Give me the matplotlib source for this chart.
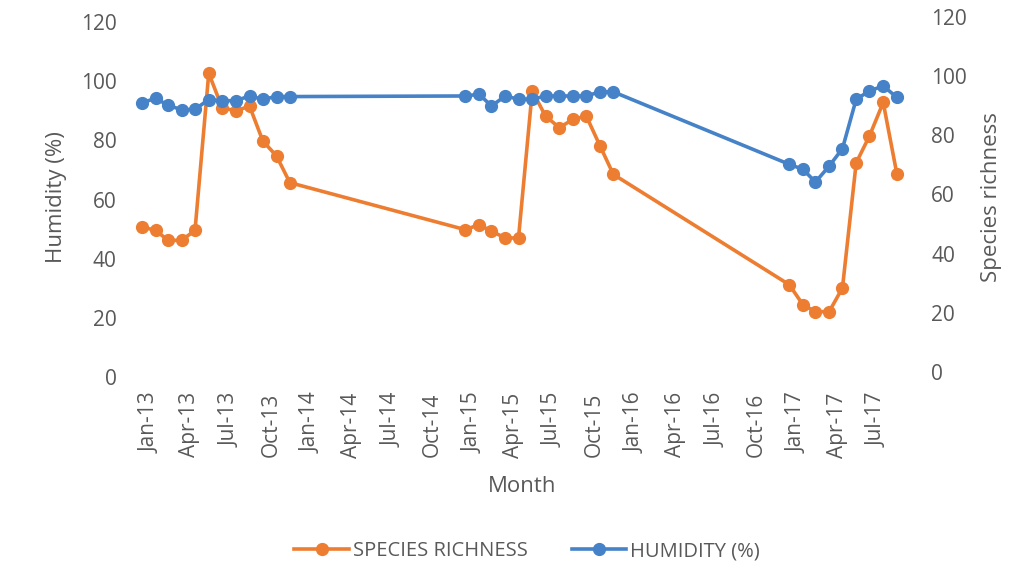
import matplotlib
matplotlib.use("Agg")
import matplotlib.pyplot as plt
import matplotlib.dates as mdates
import matplotlib.transforms as mtransforms
import pandas as pd

# monthly samples: Jan-Dec 2013, Jan-Dec 2015, Jan-Sep 2017
months = (list(pd.date_range("2013-01-01", "2013-12-01", freq="MS"))
          + list(pd.date_range("2015-01-01", "2015-12-01", freq="MS"))
          + list(pd.date_range("2017-01-01", "2017-09-01", freq="MS")))

humidity = [92.7, 94.2, 91.9, 90.3, 90.5, 93.8, 93.4, 93.4, 95.0, 93.9, 94.8, 94.8,
            95.0, 95.6, 91.6, 95.0, 93.9, 93.9, 95.0, 95.0, 95.0, 95.0, 96.4, 96.4,
            71.9, 70.2, 65.9, 71.3, 77.2, 93.9, 96.7, 98.4, 94.5]

species = [49.0, 47.9, 44.5, 44.5, 47.9, 101.0, 89.4, 88.2, 89.9, 78.1, 73.0, 64.0,
           48.1, 49.8, 47.6, 45.3, 45.3, 95.0, 86.5, 82.6, 85.4, 86.5, 76.4, 66.8,
           29.5, 22.7, 20.4, 20.4, 28.4, 70.7, 79.8, 91.1, 66.8]

x_ticks = pd.date_range("2013-01-01", "2017-07-01", freq="3MS")
y_ticks = [0, 20, 40, 60, 80, 100, 120]

ORANGE = "#ED7D31"
BLUE = "#4682C8"
GREY = "#595959"
plt.rcParams["font.family"] = ["Open Sans", "DejaVu Sans"]

fig = plt.figure(figsize=(10.34, 5.72), dpi=100)
ax = fig.add_axes([125 / 1034, 1 - 377 / 572, (920 - 125) / 1034, 360 / 572])
ax2 = ax.twinx()

ax2.plot(months, species, color=ORANGE, lw=2.6, marker="o", ms=8.5,
         label="SPECIES RICHNESS")
ax.plot(months, humidity, color=BLUE, lw=2.6, marker="o", ms=8.5,
        label="HUMIDITY (%)")
ax.set_zorder(ax2.get_zorder() + 1)
ax.patch.set_visible(False)

ax.set_ylim(0, 121.7)
ax2.set_ylim(-1.7, 120)
ax.set_yticks(y_ticks)
ax2.set_yticks(y_ticks)
ax.set_xlim(pd.Timestamp("2012-11-24"), pd.Timestamp("2017-10-23"))
ax.set_xticks(x_ticks)
ax.xaxis.set_major_formatter(mdates.DateFormatter("%b-%y"))

for a in (ax, ax2):
    for s in a.spines.values():
        s.set_visible(False)
    a.tick_params(length=0, labelsize=15, colors=GREY)
ax.tick_params(axis="y", pad=6)
ax2.tick_params(axis="y", pad=8)
ax.tick_params(axis="x", pad=11)

shift = mtransforms.ScaledTranslation(0.08, 0, fig.dpi_scale_trans)
for lab in ax.get_xticklabels():
    lab.set_rotation(90)
    lab.set_transform(lab.get_transform() + shift)

ax.set_xlabel("Month", fontsize=16, color=GREY, labelpad=13)
ax.set_ylabel("Humidity (%)", fontsize=16, color=GREY, labelpad=10)
ax2.set_ylabel("Species richness", fontsize=16, color=GREY, labelpad=10)

h1, l1 = ax2.get_legend_handles_labels()
h2, l2 = ax.get_legend_handles_labels()
leg = fig.legend(h1 + h2, l1 + l2, loc="center", bbox_to_anchor=(0.51, 1 - 551 / 572),
                 ncol=2, frameon=False, fontsize=14.5, handlelength=2.7,
                 columnspacing=2.2, handletextpad=0.2)
for t in leg.get_texts():
    t.set_color(GREY)

fig.savefig("out.png", dpi=100)
